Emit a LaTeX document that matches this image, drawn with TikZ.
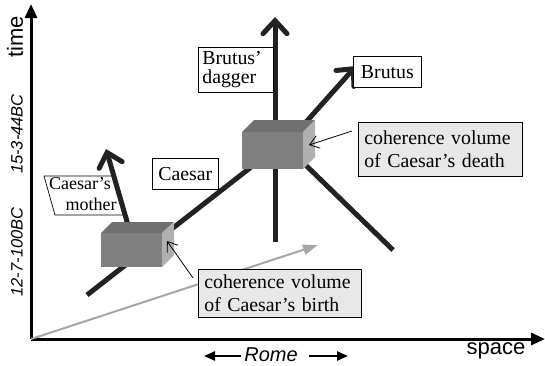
\documentclass[tikz,border=0pt]{standalone}
\usepackage{fontspec}
\setmainfont{Liberation Serif}
\newfontfamily\axisfont{Liberation Sans}
\usetikzlibrary{arrows.meta}
\definecolor{wl}{HTML}{222222}
\definecolor{cohfill}{HTML}{E8E8E8}
\definecolor{boxfront}{HTML}{808080}
\definecolor{boxtop}{HTML}{707070}
\definecolor{boxright}{HTML}{B0B0B0}
\begin{document}
\begin{tikzpicture}[x=1pt,y=-1pt,
  axis/.style={line width=3pt,-{Triangle[length=14pt,width=12pt]}},
  world/.style={line width=5pt,draw=wl},
  worldarrow/.style={world,-{Straight Barb[length=13pt,width=24pt,line cap=round]}},
  labelbox/.style={draw,line width=0.7pt,fill=white,inner sep=0pt,font=\fontsize{19.8}{19}\selectfont},
  cohbox/.style={labelbox,fill=cohfill,font=\fontsize{19.8}{22.5}\selectfont},
  pointer/.style={line width=0.8pt,-{Straight Barb[length=9pt,width=13pt]}},
  axislabel/.style={font=\axisfont\fontsize{22}{24}\selectfont},
  datelabel/.style={font=\axisfont\itshape\fontsize{16.5}{18}\selectfont,rotate=90}
]
\useasboundingbox (0,0) rectangle (545,365);

% coordinates
\coordinate (origin) at (31,339);
\coordinate (ttop) at (31,4);
\coordinate (sright) at (545,339);
\coordinate (grayend) at (318,245);
\coordinate (cstart) at (87,295);
\coordinate (cend) at (273,150);
\coordinate (dagbot) at (275,242);
\coordinate (dagtop) at (275,17);
\coordinate (brstart) at (290,140);
\coordinate (brtip) at (356,66);
\coordinate (brlow) at (393,250);
\coordinate (brmid) at (285,145);
\coordinate (mstart) at (128,225);
\coordinate (mtip) at (106,149);

% axes
\draw[axis] (origin) -- (ttop);
\draw[axis] (origin) -- (sright);
\node[axislabel,rotate=90] (time) at (15,37) {time};
\node[axislabel] (space) at (496,351) {space};
\node[datelabel] (d1) at (17,134) {15-3-44BC};
\node[datelabel] (d2) at (17,252) {12-7-100BC};
\node[font=\axisfont\itshape\fontsize{20}{22}\selectfont] (rome) at (271,355) {Rome};
\coordinate (rl1) at (241,356); \coordinate (rl2) at (204,356);
\coordinate (rr1) at (309,356); \coordinate (rr2) at (348,356);
\draw[line width=2.5pt,-{Triangle[length=11pt,width=9pt]}] (rl1) -- (rl2);
\draw[line width=2.5pt,-{Triangle[length=11pt,width=9pt]}] (rr1) -- (rr2);

% gray arrow
\draw[line width=2pt,draw=gray!70,-{Triangle[length=15pt,width=10pt]},color=gray!70] (origin) -- (grayend);

% world lines
\draw[world] (cstart) -- (cend);
\draw[worldarrow] (dagbot) -- (dagtop);
\draw[world] (brlow) -- (brmid);
\draw[worldarrow] (brstart) -- (brtip);

% Caesar's mother label (parallelogram)
\coordinate (p1) at (44,176); \coordinate (p2) at (114,176);
\coordinate (p3) at (126,215); \coordinate (p4) at (55,215);
\draw[line width=0.7pt,fill=white] (p1) -- (p2) -- (p3) -- (p4) -- cycle;
\node[font=\fontsize{18}{19}\selectfont] (mother1) at (80,184) {Caesar’s};
\node[font=\fontsize{18}{19}\selectfont] (mother2) at (91,204) {mother};
\draw[worldarrow] (mstart) -- (mtip);

% birth cuboid
\fill[boxfront] (101,233) rectangle (162,267);
\fill[boxtop] (101,233) -- (112,222) -- (174,222) -- (162,233) -- cycle;
\fill[boxright] (162,233) -- (174,222) -- (174,255) -- (162,267) -- cycle;
% death cuboid
\fill[boxfront] (242,132) rectangle (303,169);
\fill[boxtop] (242,132) -- (254,120) -- (315,120) -- (303,132) -- cycle;
\fill[boxright] (303,132) -- (315,120) -- (315,157) -- (303,169) -- cycle;

% labels
\node[labelbox,anchor=north west,minimum width=66pt,minimum height=31pt] (caesar) at (152,158) {Caesar};
\node[labelbox,anchor=north west,minimum width=68pt,minimum height=31pt] (brutus) at (353,56) {Brutus};
\node[labelbox,anchor=north west,text width=67pt,inner xsep=4pt,minimum height=45pt,align=left] (dagger) at (198,47) {Brutus’\\dagger};
\node[cohbox,anchor=north west,text width=152pt,inner xsep=6pt,minimum height=54pt,align=left] (cohdeath) at (358,122) {coherence volume\\of Caesar’s death};
\node[cohbox,anchor=north west,text width=151pt,inner xsep=6pt,minimum height=48pt,align=left] (cohbirth) at (198,269) {coherence volume\\of Caesar’s birth};

% pointers
\coordinate (pd1) at (352,131); \coordinate (pd2) at (309,145);
\coordinate (pb1) at (193,278); \coordinate (pb2) at (167,241);
\draw[pointer] (pd1) -- (pd2);
\draw[pointer] (pb1) -- (pb2);
\end{tikzpicture}
\end{document}
